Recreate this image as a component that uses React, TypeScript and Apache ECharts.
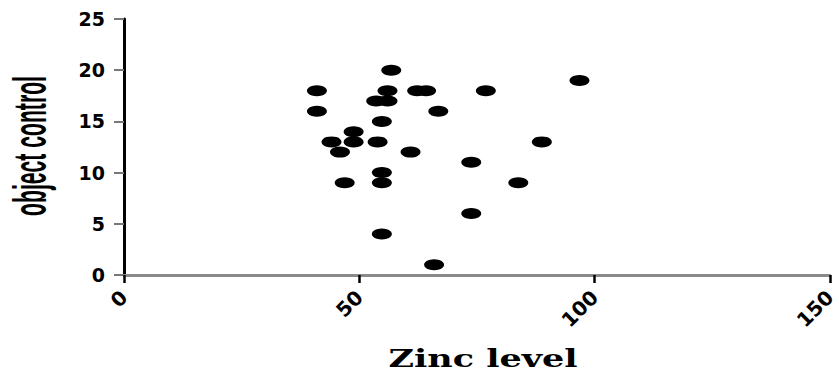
import React, { useEffect, useRef } from "react";
import * as echarts from "echarts";

const zincLevel = [
  56.8, 96.8, 41, 56, 62.3, 64.2, 76.9, 41, 53.6, 56,
  66.8, 54.8, 48.8, 44.1, 48.8, 53.9, 88.8, 45.9, 60.9, 73.8,
  54.8, 46.9, 54.8, 83.8, 73.8, 54.8, 65.9,
];
const objectControl = [
  20, 19, 18, 18, 18, 18, 18, 16, 17, 17,
  16, 15, 14, 13, 13, 13, 13, 12, 12, 11,
  10, 9, 9, 9, 6, 4, 1,
];
const yTicks = [0, 5, 10, 15, 20, 25];
const xTicks = [0, 50, 100, 150];
const xTitle = "Zinc level";
const yTitle = "object control";

export default function App() {
  const ref = useRef<HTMLDivElement>(null);
  useEffect(() => {
    if (!ref.current) return;
    const chart = echarts.init(ref.current, null, { renderer: "svg" });
    const points = zincLevel.map((x, i) => [x, objectControl[i]]);
    chart.setOption({
      animation: false,
      backgroundColor: "#ffffff",
      grid: { left: 124, top: 19, width: 717, bottom: 97 },
      graphic: [
        {
          type: "text",
          x: 31,
          y: 146,
          rotation: Math.PI / 2,
          scaleX: 0.46,
          style: {
            text: yTitle,
            x: 0,
            y: 0,
            align: "center",
            verticalAlign: "middle",
            fontFamily: "Liberation Sans, Arial, sans-serif",
            fontWeight: "bold",
            fontSize: 46,
            fill: "#000",
          },
        },
        {
          type: "text",
          x: 483,
          y: 358,
          scaleX: 1.4,
          style: {
            text: xTitle,
            x: 0,
            y: 0,
            align: "center",
            verticalAlign: "middle",
            fontFamily: "DejaVu Serif",
            fontWeight: "bold",
            fontSize: 25,
            fill: "#000",
          },
        },
      ],
      xAxis: {
        type: "value",
        min: xTicks[0],
        max: xTicks[xTicks.length - 1],
        interval: 50,
        splitLine: { show: false },
        axisLine: { show: true, onZero: false, lineStyle: { color: "#8a8a8a", width: 3 } },
        axisTick: { show: true, length: 8, lineStyle: { color: "#000", width: 2.5 } },
        axisLabel: {
          rotate: 45,
          margin: 19,
          fontFamily: "DejaVu Sans",
          fontWeight: "bold",
          fontSize: 20,
          color: "#000",
        },
      },
      yAxis: {
        type: "value",
        min: yTicks[0],
        max: yTicks[yTicks.length - 1],
        interval: 5,
        splitLine: { show: false },
        axisLine: { show: true, onZero: false, lineStyle: { color: "#000", width: 3 } },
        axisTick: { show: true, length: 10, lineStyle: { color: "#777", width: 2 } },
        axisLabel: {
          margin: 19,
          fontFamily: "DejaVu Sans",
          fontWeight: "bold",
          fontSize: 19,
          color: "#000",
        },
      },
      series: [
        {
          type: "scatter",
          data: points,
          symbol: "circle",
          symbolSize: [20, 11],
          itemStyle: { color: "#000", opacity: 1 },
          z: 3,
        },
      ],
    });
    return () => chart.dispose();
  }, []);
  return <div ref={ref} style={{ width: 839, height: 372, position: "absolute", left: 0, top: 0 }} />;
}
